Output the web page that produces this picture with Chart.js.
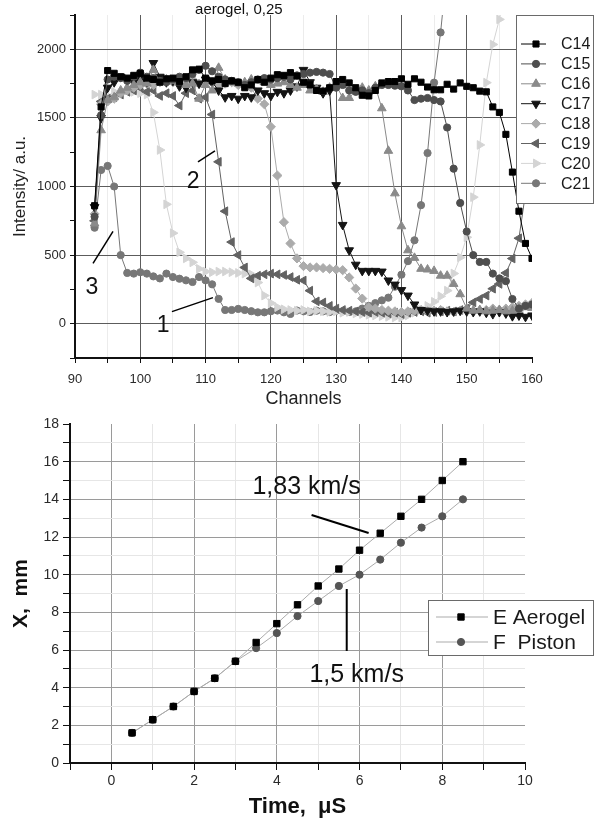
<!DOCTYPE html>
<html>
<head>
<meta charset="utf-8">
<title>aerogel, 0,25</title>
<script src="https://cdn.jsdelivr.net/npm/chart.js@4.4.1/dist/chart.umd.min.js"></script>
<style>
  html, body { margin: 0; padding: 0; background: #fff; }
  #top { position: absolute; left: 0; top: 0; width: 600px; height: 410px; }
  #bottom { position: absolute; left: 0; top: 410px; width: 600px; height: 412px; }
</style>
</head>
<body>
<div id="top"><canvas id="spectra"></canvas></div>
<div id="bottom"><canvas id="track"></canvas></div>
<script>
// ---- top panel: intensity vs channel ----
const channels = [
  93, 94, 95, 96, 97, 98, 99, 100, 101, 102,
  103, 104, 105, 106, 107, 108, 109, 110, 111, 112,
  113, 114, 115, 116, 117, 118, 119, 120, 121, 122,
  123, 124, 125, 126, 127, 128, 129, 130, 131, 132,
  133, 134, 135, 136, 137, 138, 139, 140, 141, 142,
  143, 144, 145, 146, 147, 148, 149, 150, 151, 152,
  153, 154, 155, 156, 157, 158, 159, 160
];
const seriesNames = ["C14", "C15", "C16", "C17", "C18", "C19", "C20", "C21"];

const c14 = [
  860, 1580, 1845, 1825, 1800, 1790, 1810, 1825, 1790, 1780,
  1760, 1785, 1790, 1765, 1800, 1850, 1855, 1790, 1770, 1780,
  1750, 1770, 1760, 1720, 1740, 1780, 1760, 1790, 1815, 1810,
  1830, 1805, 1760, 1740, 1700, 1695, 1720, 1765, 1780, 1755,
  1720, 1665, 1660, 1700, 1755, 1765, 1765, 1785, 1745, 1785,
  1760, 1725, 1705, 1705, 1745, 1710, 1755, 1730, 1720, 1695,
  1690, 1580, 1540, 1380, 1105, 820, 585, 476
];
const c15 = [
  780, 1520, 1780, 1800, 1790, 1770, 1800, 1830, 1800, 1790,
  1770, 1760, 1780, 1800, 1790, 1820, 1850, 1880, 1840, 1800,
  1780, 1770, 1760, 1740, 1760, 1780, 1790, 1780, 1790, 1800,
  1780, 1810, 1820, 1830, 1835, 1830, 1820, 1720, 1740, 1700,
  1690, 1700, 1680, 1720, 1740, 1740, 1735, 1730, 1700, 1630,
  1640, 1645, 1630, 1620, 1430, 1130, 880, 672, 500, 450,
  450, 365, 330, 310, 180, 110, 130, 140
];
const c16 = [
  730, 1410, 1630, 1650, 1700, 1720, 1740, 1760, 1750, 1850,
  1760, 1780, 1770, 1760, 1740, 1750, 1640, 1740, 1700, 1865,
  1780, 1760, 1750, 1760, 1780, 1770, 1760, 1740, 1750, 1760,
  1740, 1720, 1740, 1700, 1710, 1690, 1720, 1740, 1645, 1645,
  1700, 1720, 1700, 1730, 1570, 1260, 950, 710, 535, 480,
  400, 395, 385, 350, 350, 290, 215, 110, 95, 100,
  90, 95, 100, 90, 95, 110, 120, 115
];
const c17 = [
  850, 1500, 1720, 1760, 1800, 1780, 1760, 1790, 1760, 1900,
  1800, 1760, 1770, 1730, 1720, 1760, 1750, 1780, 1760, 1700,
  1650, 1660, 1640, 1660, 1650, 1700, 1680, 1660, 1690, 1680,
  1700, 1730, 1850, 1760, 1720, 1680, 1700, 1010, 720, 535,
  430, 385, 385, 385, 380, 315, 285, 245, 205, 140,
  100, 95, 90, 90, 85, 90, 95, 90, 85, 90,
  80, 70, 85, 75, 55, 60, 50, 60
];
const c18 = [
  800, 1600, 1620, 1640, 1680, 1700, 1720, 1740, 1750, 1740,
  1760, 1770, 1760, 1750, 1760, 1780, 1750, 1770, 1760, 1740,
  1750, 1760, 1740, 1730, 1720, 1640, 1600, 1435, 1080, 740,
  585, 476, 420, 410, 410, 405, 400, 395, 390, 337,
  256, 183, 120, 110, 100, 95, 90, 85, 90, 95,
  100, 90, 95, 100, 90, 85, 95, 100, 90, 95,
  100, 110, 100, 110, 120, 130, 140, 150
];
const c19 = [
  750, 1620, 1640, 1650, 1670, 1690, 1700, 1720, 1690, 1700,
  1660, 1680, 1660, 1590, 1680, 1700, 1640, 1650, 1525, 1180,
  820, 595, 500, 410, 330, 350, 360, 365, 360, 355,
  340, 320, 315, 241, 163, 155, 130, 110, 100, 95,
  90, 85, 80, 85, 80, 75, 80, 70, 80, 85,
  90, 80, 85, 90, 95, 90, 100, 110, 155, 180,
  205, 255, 290, 370, 475, 623, 950, 1300
];
const c20 = [
  1670, 1670, 1660, 1690, 1680, 1700, 1690, 1680, 1670, 1540,
  1266, 870, 660, 520, 476, 447, 400, 380, 375, 380,
  380, 375, 370, 365, 360, 300, 205, 150, 120, 105,
  100, 95, 100, 90, 95, 90, 85, 90, 80, 85,
  75, 70, 65, 60, 55, 50, 45, 45, 60, 80,
  100, 130, 160, 200, 241, 366, 483, 630, 922, 1303,
  1757, 2035, 2218, 2450, null, null, null, null
];
const c21 = [
  700, 1120, 1150, 1000, 500, 370, 365, 375, 365, 345,
  330, 365, 340, 328, 316, 304, 340, 316, 287, 181,
  100, 100, 108, 100, 91, 83, 83, 91, 96, 83,
  71, 96, 90, 85, 95, 90, 85, 95, 90, 85,
  90, 110, 130, 150, 170, 190, 270, 357, 456, 608,
  864, 1244, 1757, 2123, 2600, null, null, null, null, null,
  null, null, null, null, null, null, null, null
];
const intensity = [c14, c15, c16, c17, c18, c19, c20, c21];

// ---- bottom panel: position vs time ----
const times = [0.5, 1, 1.5, 2, 2.5, 3, 3.5, 4, 4.5, 5, 5.5, 6, 6.5, 7, 7.5, 8, 8.5];
const aerogelX = [1.6, 2.3, 3.0, 3.8, 4.5, 5.4, 6.4, 7.4, 8.4, 9.4, 10.3, 11.3, 12.2, 13.1, 14.0, 15.0, 16.0];
const pistonX = [1.6, 2.3, 3.0, 3.8, 4.5, 5.4, 6.1, 6.9, 7.8, 8.6, 9.4, 10.0, 10.8, 11.7, 12.5, 13.1, 14.0];
const trackNames = ["E Aerogel", "F  Piston"];

// marker looks for each curve
const looks = [
  { color: "#000000", style: "rect", rot: 0, r: 4.3 },
  { color: "#4e4e4e", style: "circle", rot: 0, r: 3.6 },
  { color: "#8a8a8a", style: "triangle", rot: 0, r: 5 },
  { color: "#141414", style: "triangle", rot: 180, r: 5 },
  { color: "#ababab", style: "rectRot", rot: 0, r: 4.6 },
  { color: "#626262", style: "triangle", rot: -90, r: 5 },
  { color: "#d4d4d4", style: "triangle", rot: 90, r: 5 },
  { color: "#777777", style: "circle", rot: 0, r: 3.6 }
];

const FONT = "'Liberation Sans', Arial, sans-serif";
Chart.defaults.font.family = FONT;
Chart.defaults.color = "#2a2a2a";

function marker(ctx, style, rot, r, x, y) {
  if (Chart.helpers && Chart.helpers.drawPoint) {
    Chart.helpers.drawPoint(ctx, { pointStyle: style, rotation: rot, radius: r, borderWidth: 1 }, x, y);
  } else {
    ctx.beginPath(); ctx.arc(x, y, r, 0, Math.PI * 2); ctx.fill();
  }
}

// boxed legend with line + marker
const legendBox = {
  id: "legendBox",
  afterDraw(chart, args, o) {
    const ctx = chart.ctx;
    ctx.save();
    ctx.fillStyle = "#fff";
    ctx.fillRect(o.x, o.y, o.w, o.h);
    ctx.strokeStyle = "#6a6a6a";
    ctx.lineWidth = 1;
    ctx.strokeRect(o.x + 0.5, o.y + 0.5, o.w, o.h);
    chart.data.datasets.forEach((ds, i) => {
      const cy = o.y + o.first + i * o.step;
      ctx.strokeStyle = ds.borderColor;
      ctx.lineWidth = 1;
      ctx.beginPath();
      ctx.moveTo(o.x + o.lineFrom, cy);
      ctx.lineTo(o.x + o.lineTo, cy);
      ctx.stroke();
      ctx.fillStyle = ds.pointBackgroundColor;
      ctx.strokeStyle = ds.pointBorderColor;
      marker(ctx, ds.pointStyle, ds.pointRotation, ds.pointRadius, o.x + o.markX, cy);
      ctx.fillStyle = "#1a1a1a";
      ctx.font = o.font;
      ctx.textAlign = "left";
      ctx.textBaseline = "middle";
      ctx.fillText(ds.label, o.x + o.textX, cy + 1);
    });
    ctx.restore();
  }
};

// free text and pointer lines, placed in data units
const notes = {
  id: "notes",
  afterDraw(chart, args, o) {
    const { ctx, scales: { x, y } } = chart;
    ctx.save();
    ctx.strokeStyle = "#000";
    (o.lines || []).forEach(l => {
      ctx.lineWidth = l.w;
      ctx.beginPath();
      ctx.moveTo(x.getPixelForValue(l.a[0]), y.getPixelForValue(l.a[1]));
      ctx.lineTo(x.getPixelForValue(l.b[0]), y.getPixelForValue(l.b[1]));
      ctx.stroke();
    });
    (o.texts || []).forEach(t => {
      ctx.font = t.font;
      ctx.fillStyle = "#111";
      ctx.textAlign = "center";
      ctx.textBaseline = "middle";
      ctx.fillText(t.text, x.getPixelForValue(t.at[0]), y.getPixelForValue(t.at[1]));
    });
    ctx.restore();
  }
};

new Chart(document.getElementById("spectra"), {
  type: "line",
  data: {
    datasets: seriesNames.map((name, i) => ({
      label: name,
      data: channels.map((c, j) => ({ x: c, y: intensity[i][j] })),
      borderColor: looks[i].color,
      borderWidth: 1,
      pointStyle: looks[i].style,
      pointRotation: looks[i].rot,
      pointRadius: looks[i].r,
      pointBackgroundColor: looks[i].color,
      pointBorderColor: looks[i].color,
      pointBorderWidth: 1,
      tension: 0
    }))
  },
  options: {
    responsive: true,
    maintainAspectRatio: false,
    animation: false,
    layout: { padding: { top: 15, right: 68, left: 0, bottom: 0 } },
    plugins: {
      legend: { display: false },
      tooltip: { enabled: false },
      legendBox: {
        x: 516, y: 15, w: 77, h: 188, first: 29, step: 19.9,
        lineFrom: 5, lineTo: 30, markX: 20, textX: 45,
        font: "16px " + FONT
      },
      notes: {
        texts: [
          { text: "aerogel, 0,25", at: [115.1, 2284], font: "15px " + FONT },
          { text: "2", at: [108.1, 1032], font: "23px " + FONT },
          { text: "3", at: [92.6, 264], font: "23px " + FONT },
          { text: "1", at: [103.5, -15], font: "23px " + FONT }
        ],
        lines: [
          { a: [108.84, 1179], b: [111.44, 1259], w: 1.5 },
          { a: [92.76, 439], b: [95.82, 673], w: 1.5 },
          { a: [104.85, 88], b: [111.13, 190], w: 1.5 }
        ]
      }
    },
    scales: {
      x: {
        type: "linear",
        min: 90, max: 160,
        afterFit: s => { s.height = 52; },
        ticks: {
          stepSize: 5, autoSkip: false, maxRotation: 0, padding: 9,
          font: { size: 13 },
          callback: v => (v % 10 === 0 ? v : "")
        },
        grid: {
          color: c => (c.tick.value === 90 || c.tick.value === 160) ? "rgba(0,0,0,0)"
            : (c.tick.value % 10 === 0 ? "#5c5c5c" : "#ececec"),
          tickColor: "#111",
          tickLength: 5
        },
        border: { color: "#111", width: 2 },
        title: { display: true, text: "Channels", font: { size: 18 }, color: "#222", padding: { top: 0, bottom: 0 } }
      },
      y: {
        min: -250, max: 2250,
        afterFit: s => { s.width = 75; },
        ticks: {
          stepSize: 250, autoSkip: false, padding: 4,
          font: { size: 13 },
          callback: v => (v % 500 === 0 && v >= 0 && v <= 2000 ? v : "")
        },
        grid: {
          color: c => (c.tick.value % 500 === 0 && c.tick.value >= 0 && c.tick.value <= 2000) ? "#5c5c5c" : "rgba(0,0,0,0)",
          tickColor: "#111",
          tickLength: 5
        },
        border: { color: "#111", width: 2 },
        title: { display: true, text: "Intensity/ a.u.", font: { size: 17 }, color: "#222", padding: { top: 10, bottom: 0 } }
      }
    }
  },
  plugins: [legendBox, notes]
});

new Chart(document.getElementById("track"), {
  type: "line",
  data: {
    datasets: [
      {
        label: trackNames[0],
        data: times.map((t, j) => ({ x: t, y: aerogelX[j] })),
        borderColor: "#ababab", borderWidth: 1,
        pointStyle: "rect", pointRotation: 0, pointRadius: 4.5,
        pointBackgroundColor: "#000", pointBorderColor: "#000", pointBorderWidth: 1,
        tension: 0
      },
      {
        label: trackNames[1],
        data: times.map((t, j) => ({ x: t, y: pistonX[j] })),
        borderColor: "#ababab", borderWidth: 1,
        pointStyle: "circle", pointRotation: 0, pointRadius: 3.6,
        pointBackgroundColor: "#555", pointBorderColor: "#555", pointBorderWidth: 1,
        tension: 0
      }
    ]
  },
  options: {
    responsive: true,
    maintainAspectRatio: false,
    animation: false,
    layout: { padding: { top: 14, right: 75, left: 0, bottom: 0 } },
    plugins: {
      legend: { display: false },
      tooltip: { enabled: false },
      legendBox: {
        x: 428, y: 190, w: 165, h: 55, first: 17, step: 25,
        lineFrom: 8, lineTo: 60, markX: 33, textX: 65,
        font: "21px " + FONT
      },
      notes: {
        texts: [
          { text: "1,83 km/s", at: [4.72, 14.66], font: "25px " + FONT },
          { text: "1,5 km/s", at: [5.93, 4.67], font: "25px " + FONT }
        ],
        lines: [
          { a: [4.84, 13.17], b: [6.22, 12.21], w: 2 },
          { a: [5.69, 9.24], b: [5.69, 5.95], w: 2 }
        ]
      }
    },
    scales: {
      x: {
        type: "linear",
        min: -1, max: 10,
        afterFit: s => { s.height = 59; },
        ticks: {
          stepSize: 1, autoSkip: false, maxRotation: 0, padding: 3,
          font: { size: 14 },
          callback: v => (v >= 0 && v % 2 === 0 ? v : "")
        },
        grid: {
          color: c => (c.tick.value === -1 || c.tick.value === 10) ? "rgba(0,0,0,0)"
            : (c.tick.value % 2 === 0 ? "#9a9a9a" : "#e6e6e6"),
          tickColor: "#111",
          tickLength: 7
        },
        border: { color: "#111", width: 2 },
        title: { display: true, text: "Time,  μS", font: { size: 22, weight: "bold" }, color: "#111", padding: { top: 0, bottom: 2 } }
      },
      y: {
        min: 0, max: 18,
        afterFit: s => { s.width = 70; },
        ticks: {
          stepSize: 1, autoSkip: false, padding: 4,
          font: { size: 14 },
          callback: v => (v % 2 === 0 ? v : "")
        },
        grid: {
          color: c => (c.tick.value === 0 || c.tick.value === 18) ? "rgba(0,0,0,0)"
            : (c.tick.value % 2 === 0 ? "#9a9a9a" : "#e6e6e6"),
          tickColor: "#111",
          tickLength: 7
        },
        border: { color: "#111", width: 2 },
        title: { display: true, text: "X,  mm", font: { size: 21, weight: "bold" }, color: "#111", padding: { top: 9, bottom: 0 } }
      }
    }
  },
  plugins: [legendBox, notes]
});
</script>
</body>
</html>
